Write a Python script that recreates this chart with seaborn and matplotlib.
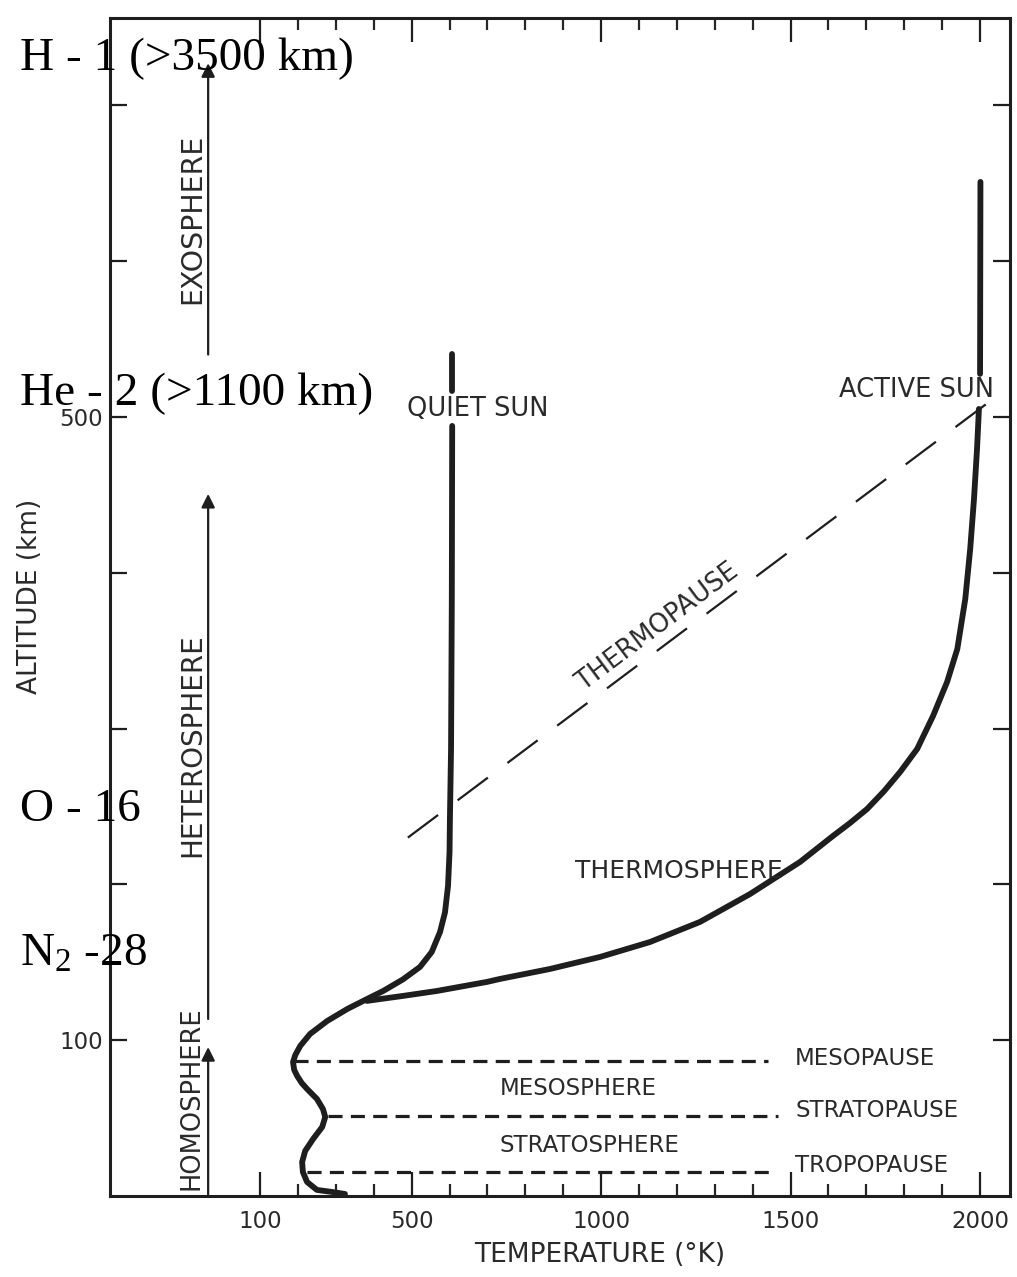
import numpy as np
import pandas as pd
import matplotlib
matplotlib.use("Agg")
import matplotlib.pyplot as plt
import seaborn as sns

# ---------------- data ----------------
# Quiet-sun temperature profile (K) vs altitude (km); upper piece is above the label gap
quiet_top_temp = [607, 607]
quiet_top_alt = [540.4, 516.7]
quiet_temp = [607, 606, 604, 601, 600, 596, 588, 575, 553, 522, 477, 425, 382,
              330, 277, 232, 206, 193, 187, 190, 198, 210, 224, 250, 266, 272,
              264, 240, 219, 211, 213, 224, 250, 290, 324]
quiet_alt = [494.2, 383, 287, 242, 220.8, 199, 182, 169.5, 156.6, 147, 139, 131.6, 126.4,
             120, 112.3, 104, 96.3, 90.5, 86.0, 81.0, 77.0, 72.5, 68.7, 62.3, 55.8, 50.7,
             44.3, 36.6, 28.9, 21.8, 15.4, 9.0, 3.9, 2.6, 1.3]

# Active-sun profile, leaving the common curve near 125 km
active_top_temp = [2001, 2000]
active_top_alt = [650.8, 527.6]
active_temp = [382, 417, 477, 567, 699, 733, 865, 997, 1129, 1261, 1393, 1525,
               1612, 1657, 1702, 1747, 1789, 1834, 1876, 1913, 1940, 1961, 1974,
               1984, 1992, 1997]
active_alt = [125.2, 126.4, 128.4, 131.6, 137.4, 139.3, 145.7, 153.4, 163.0, 175.9,
              193.8, 214.4, 231.1, 239.4, 248.4, 259.9, 272.1, 286.9, 308.1, 329.9,
              351.1, 383.2, 415.3, 447.4, 479.5, 505.1]

# Thermopause dashed line
thermo_temp = [490, 2045]
thermo_alt = [230, 513.5]

# Horizontal boundaries
pause_names = ["MESOPAUSE", "STRATOPAUSE", "TROPOPAUSE"]
pause_alt = [86.6, 51.3, 15.4]
pause_start = [190, 280, 225]
pause_end = [1441, 1467, 1446]
pause_label_alt = [88, 54.6, 19.3]

# Axis ticks
x_major = [100, 500, 1000, 1500, 2000]
x_minor = [200, 300, 400, 600, 700, 800, 900, 1100, 1200, 1300, 1400,
           1600, 1700, 1800, 1900]
y_ticks = [100, 200, 300, 400, 500, 600, 700]
y_tick_labels = ["100", "", "", "", "500", "", ""]

# Region arrows (start, end altitude)
region_names = ["EXOSPHERE", "HETEROSPHERE", "HOMOSPHERE"]
region_arrow_from = [540, 113.6, 1.0]
region_arrow_to = [727, 450.6, 95.6]
region_label_alt = [627, 289.5, 63]
region_font = [20.5, 20, 18.5]

# Species annotations
species = ["H - 1 (>3500 km)", "He - 2 (>1100 km)", "O - 16", "N$_2$ -28"]

# ---------------- style ----------------
sns.set_style("ticks")
plt.rcParams["font.family"] = ["DejaVu Sans"]
plt.rcParams["mathtext.fontset"] = "custom"
plt.rcParams["mathtext.rm"] = "Liberation Serif"
plt.rcParams["mathtext.default"] = "regular"

INK = "#1e1e1e"
TXT = "#2a2a2a"

fig = plt.figure(figsize=(10.17, 12.77), dpi=100)
fig.patch.set_facecolor("white")
ax = fig.add_axes([110 / 1017, 1 - 1196 / 1277, 900 / 1017, 1178 / 1277])
ax.set_facecolor("white")

# ---------------- curves ----------------
rows = []
for seg, (ts, hs) in enumerate([(quiet_top_temp, quiet_top_alt), (quiet_temp, quiet_alt),
                                 (active_top_temp, active_top_alt), (active_temp, active_alt)]):
    for t, h in zip(ts, hs):
        rows.append({"temp": t, "alt": h, "seg": seg})
df = pd.DataFrame(rows)
sns.lineplot(data=df, x="temp", y="alt", units="seg", estimator=None, sort=False,
             color=INK, lw=4.2, solid_capstyle="round", solid_joinstyle="round",
             ax=ax, legend=False, zorder=3)

# thermopause
sns.lineplot(x=thermo_temp, y=thermo_alt, sort=False, estimator=None, color=INK,
             lw=1.6, linestyle=(0, (17, 11)), ax=ax, legend=False, zorder=2)

# pause lines
for a, s, e in zip(pause_alt, pause_start, pause_end):
    sns.lineplot(x=[s, e], y=[a, a], sort=False, estimator=None, color=INK,
                 lw=2.3, linestyle=(0, (4.4, 2.6)), ax=ax, legend=False, zorder=2)

# ---------------- axes ----------------
ax.set_xlim(-296, 2079)
ax.set_ylim(0, 756)
ax.set_xticks(x_major)
ax.set_xticklabels([str(v) for v in x_major])
ax.set_xticks(x_minor, minor=True)
ax.set_yticks(y_ticks, labels=y_tick_labels)
ax.tick_params(axis="x", which="major", direction="in", length=17, width=1.6,
               top=True, bottom=True, pad=10, labelsize=16.5, colors=INK, labelcolor=TXT)
ax.tick_params(axis="x", which="minor", direction="in", length=8.5, width=1.6,
               top=True, bottom=True)
ax.tick_params(axis="y", which="major", direction="in", length=12, width=1.6,
               left=True, right=True, pad=5, labelsize=16.5, colors=INK, labelcolor=TXT)
for sp in ax.spines.values():
    sp.set_linewidth(2.2)
    sp.set_color(INK)

ax.set_xlabel("TEMPERATURE (°K)", fontsize=19, color=TXT)
ax.xaxis.set_label_coords((600 - 110) / 900, -(1242 - 1196) / 1178)
ax.set_ylabel("ALTITUDE (km)", fontsize=19, color=TXT)
ax.yaxis.set_label_coords((43 - 110) / 900, (1196 - 596) / 1178)

# ---------------- labels ----------------
ax.text(675, 505, "QUIET SUN", ha="center", va="center", color=TXT, fontsize=18.5)
ax.text(2036, 517, "ACTIVE SUN", ha="right", va="center", color=TXT, fontsize=18.5)
ax.text(1204, 208.6, "THERMOSPHERE", ha="center", va="center", color=TXT, fontsize=18)
ax.text(733, 68.7, "MESOSPHERE", ha="left", va="center", color=TXT, fontsize=16.5)
ax.text(733, 32.7, "STRATOSPHERE", ha="left", va="center", color=TXT, fontsize=16.5)
for name, a in zip(pause_names, pause_label_alt):
    ax.text(1512, a, name, ha="left", va="center", color=TXT, fontsize=16.5)

# thermopause label, rotated along the line
fig.canvas.draw()
p1 = ax.transData.transform((thermo_temp[0], thermo_alt[0]))
p2 = ax.transData.transform((thermo_temp[1], thermo_alt[1]))
ang = np.degrees(np.arctan2(p2[1] - p1[1], p2[0] - p1[0]))
ax.text(1150, 365, "THERMOPAUSE", rotation=ang, rotation_mode="anchor",
        ha="center", va="center", color=TXT, fontsize=18.5)

# region arrows & vertical labels
for name, a0, a1, la, fs in zip(region_names, region_arrow_from, region_arrow_to,
                                region_label_alt, region_font):
    ax.annotate("", xy=(-37, a1), xytext=(-37, a0),
                arrowprops=dict(arrowstyle="-|>", color=INK, lw=1.6,
                                mutation_scale=20, shrinkA=0, shrinkB=0))
    ax.text(-80, la, name, rotation=90, ha="center", va="center",
            color=TXT, fontsize=fs)

# species overlay (serif)
serif = dict(family="Liberation Serif", fontsize=34, color="black", zorder=10)
species_y = [70, 405, 821, 966]
for s, yy in zip(species, species_y):
    fig.text(20 / 1017, 1 - yy / 1277, s, ha="left", va="baseline", **serif)

fig.savefig("out.png", dpi=100, facecolor="white")
